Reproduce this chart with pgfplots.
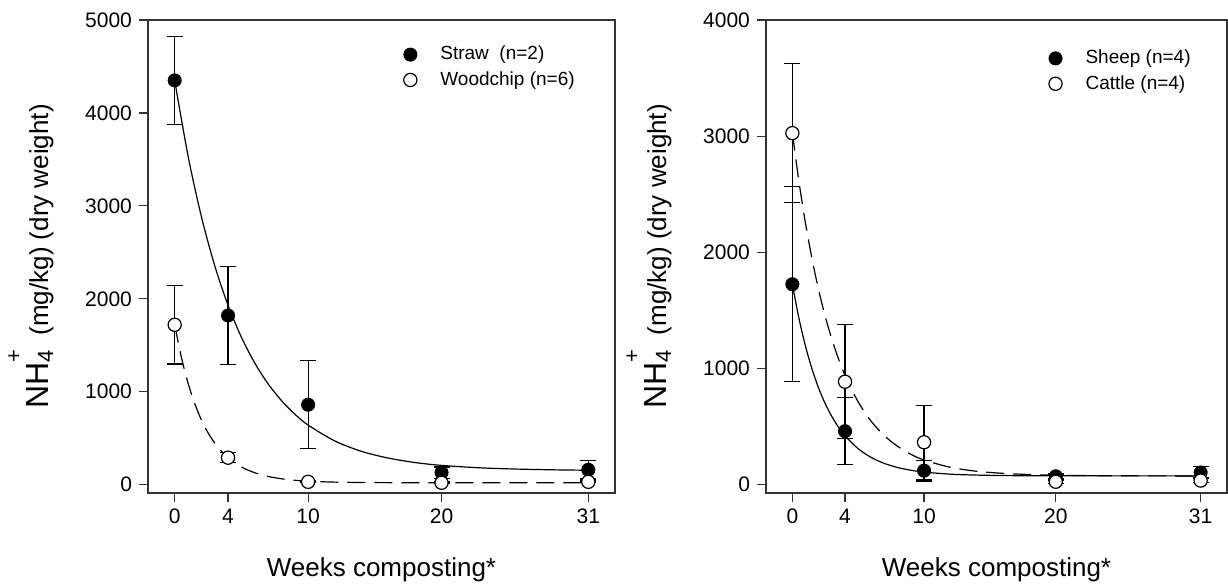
\documentclass[border=0pt]{standalone}
\usepackage{fontspec}
\setmainfont{Liberation Sans}
\usepackage{pgfplots}
\pgfplotsset{compat=1.18}

% NH4+ label, sub and superscript set by hand in the text font
\newcommand{\nhlabel}{{\fontsize{16}{16}\selectfont NH}\rlap{\raisebox{-2.5pt}{\fontsize{11}{11}\selectfont 4}}\raisebox{13.5pt}{\fontsize{11}{11}\selectfont +}\ \ (mg/kg) (dry weight)}

\pgfplotsset{
  compost/.style={
    scale only axis, anchor=south west,
    height=236.5pt,
    xmin=-2, xmax=33, xtick={0,4,10,20,31},
    tick align=outside, xtick pos=bottom, ytick pos=left,
    major tick length=4.5pt, minor tick num=0,
    axis line style={black!80, line width=0.6pt},
    every tick/.style={black!80, line width=0.6pt},
    tick label style={font=\fontsize{10.5}{12}\selectfont},
    /pgf/number format/assume math mode=true,
    /pgf/number format/1000 sep={},
    label style={font=\fontsize{13}{15}\selectfont},
    xlabel={Weeks composting*},
    xlabel style={at={(axis description cs:0.5,-0.1776)}, anchor=base},
    ylabel={\nhlabel},
    legend style={draw=none, fill=none, anchor=west, inner sep=0pt,
      font=\fontsize{9.5}{11}\selectfont, row sep=0.3pt,
      cells={anchor=west}},
    legend image code/.code={\path[draw=none, fill=none] (-3.5pt,0pt) -- (13pt,0pt);
      \draw[##1] plot coordinates {(0pt,0pt)};},
  },
  filled/.style={only marks, mark=*, mark size=3.3pt, mark options={fill=black, draw=black}},
  open/.style={only marks, mark=*, mark size=3.3pt, mark options={fill=white, draw=black, line width=0.6pt}},
  ebar/.style={only marks, mark=none, forget plot,
    error bars/.cd, y dir=both, y explicit, error mark=-,
    error mark options={rotate=90, black, line width=0.6pt, mark size=4pt},
    error bar style={black, line width=0.6pt}},
  fitline/.style={black, line width=0.6pt, smooth, mark=none, forget plot},
}

\begin{document}
\begin{tikzpicture}
\path[use as bounding box] (0,0) rectangle (614pt,294pt);

% ---- left panel: bedding ----
\begin{axis}[compost, at={(74pt,47.5pt)}, width=233.5pt,
    ymin=-90, ymax=5000, ytick={0,1000,2000,3000,4000,5000},
    ylabel style={at={(axis description cs:-0.2141,0.5)}, anchor=base},
    legend style={at={(rel axis cs:0.546,0.9)}}]
\addplot[ebar] coordinates {
  (0,4350) +- (0,472) (4,1820) +- (0,525) (10,860) +- (0,475)
  (20,130) +- (0,60) (31,160) +- (0,100)};
\addplot[ebar] coordinates {
  (0,1720) +- (0,422) (4,290) +- (0,55) (10,30) +- (0,10)
  (20,20) +- (0,8) (31,30) +- (0,10)};
\addplot[filled] coordinates {(0,4350) (4,1820) (10,860) (20,130) (31,160)};
\addlegendentry{Straw\ \ (n=2)}
\addplot[open] coordinates {(0,1720) (4,290) (10,30) (20,20) (31,30)};
\addlegendentry{Woodchip (n=6)}
% fitted decay curves
\addplot[fitline] coordinates {
  (0,4350) (1,3539) (2,2885) (3,2357) (4,1930) (5,1587) (6,1309) (7,1085)
  (8,905) (9,759) (10,641) (12,470) (14,358) (16,286) (18,238) (20,207)
  (23,180) (26,166) (29,158) (31,155)};
\addplot[fitline, dash pattern=on 9pt off 4.5pt] coordinates {
  (0,1720) (0.5,1371) (1,1093) (1.5,873) (2,697) (2.5,558) (3,448) (3.5,360)
  (4,290) (5,190) (6,128) (7,88) (8,63) (9,47) (10,37) (12,27) (15,22)
  (20,20) (31,20)};
\end{axis}

% ---- right panel: manure ----
\begin{axis}[compost, at={(383pt,47.5pt)}, width=230.5pt,
    ymin=-72, ymax=4000, ytick={0,1000,2000,3000,4000},
    ylabel style={at={(axis description cs:-0.2169,0.5)}, anchor=base},
    legend style={at={(rel axis cs:0.612,0.892)}}]
\addplot[ebar] coordinates {
  (0,1725) +- (0,840) (4,460) +- (0,287) (10,120) +- (0,88)
  (20,72) +- (0,20) (31,105) +- (0,48)};
\addplot[ebar] coordinates {
  (0,3026) +- (0,600) (4,886) +- (0,491) (10,365) +- (0,318)
  (20,25) +- (0,15) (31,35) +- (0,15)};
\addplot[filled] coordinates {(0,1725) (4,460) (10,120) (20,72) (31,105)};
\addlegendentry{Sheep (n=4)}
\addplot[open] coordinates {(0,3026) (4,886) (10,365) (20,25) (31,35)};
\addlegendentry{Cattle (n=4)}
\addplot[fitline] coordinates {
  (0,1725) (0.5,1432) (1,1191) (1.5,993) (2,830) (2.5,696) (3,586) (3.5,495)
  (4,420) (5,309) (6,233) (7,182) (8,147) (9,124) (10,108) (12,90) (14,82)
  (17,77) (20,76) (31,75)};
\addplot[fitline, dash pattern=on 9pt off 4.5pt] coordinates {
  (0,3030) (0.5,2610) (1,2249) (1.5,1940) (2,1674) (2.5,1447) (3,1252)
  (3.5,1084) (4,941) (5,712) (6,543) (7,420) (8,329) (9,261) (10,212)
  (12,149) (14,115) (16,97) (18,87) (20,81) (25,76) (31,75)};
\end{axis}
\end{tikzpicture}
\end{document}
